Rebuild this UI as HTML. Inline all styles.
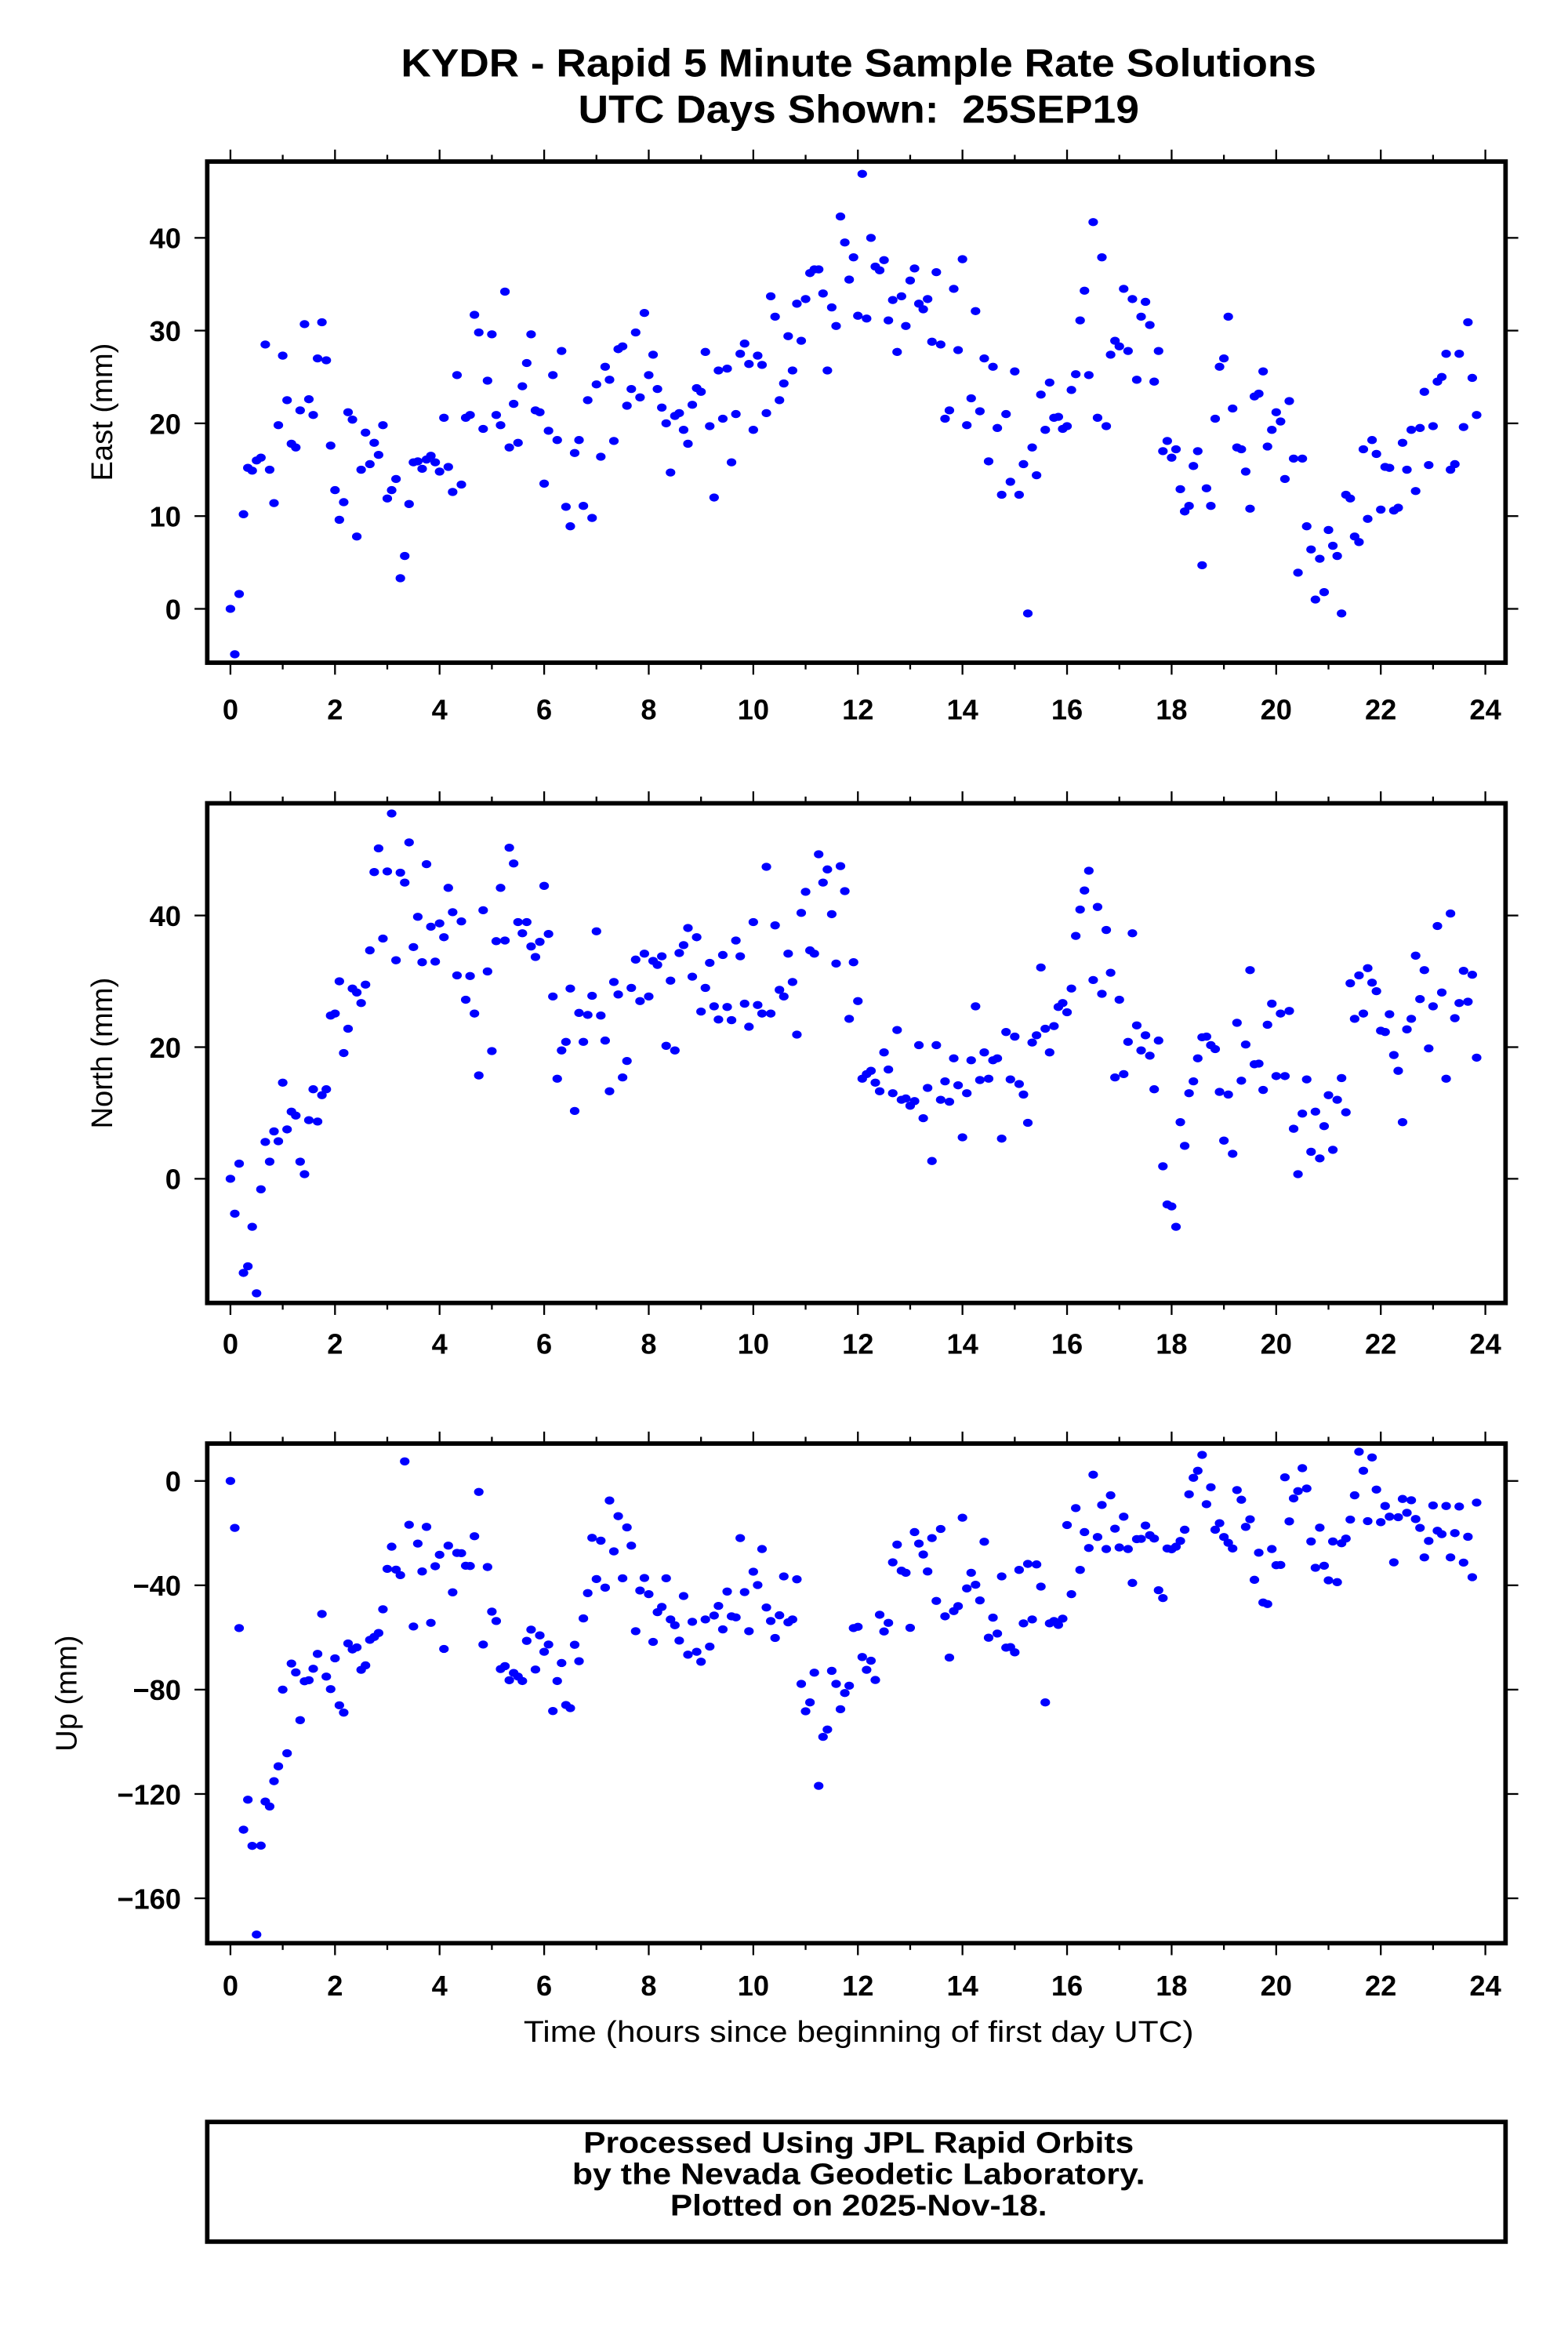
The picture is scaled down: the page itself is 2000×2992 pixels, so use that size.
<!DOCTYPE html>
<html><head><meta charset="utf-8"><style>
html,body{margin:0;padding:0;background:#fff;}
svg{display:block;}
text{font-family:"Liberation Sans",Arial,sans-serif;fill:#000;}
.b{font-weight:bold;}
</style></head>
<body>
<svg id="chart" width="2000" height="2992" viewBox="0 0 1044 1562" xmlns="http://www.w3.org/2000/svg">
<rect x="0" y="0" width="1044" height="1562" fill="#fff"/>
<g transform="scale(0.996)">
<text class="b" x="574" y="51" font-size="26" text-anchor="middle" textLength="612" lengthAdjust="spacingAndGlyphs">KYDR - Rapid 5 Minute Sample Rate Solutions</text>
<text class="b" x="574" y="82" font-size="26" text-anchor="middle" xml:space="preserve" textLength="375" lengthAdjust="spacingAndGlyphs">UTC Days Shown:  25SEP19</text>
<g id="panels"></g>
<text x="574" y="1365" font-size="20" text-anchor="middle" textLength="448" lengthAdjust="spacingAndGlyphs">Time (hours since beginning of first day UTC)</text>
<rect x="138.5" y="1418.5" width="868" height="80" fill="none" stroke="#000" stroke-width="3"/>
<text class="b" x="574" y="1439" font-size="20" text-anchor="middle" textLength="368" lengthAdjust="spacingAndGlyphs">Processed Using JPL Rapid Orbits</text>
<text class="b" x="574" y="1460" font-size="20" text-anchor="middle" textLength="383" lengthAdjust="spacingAndGlyphs">by the Nevada Geodetic Laboratory.</text>
<text class="b" x="574" y="1481" font-size="20" text-anchor="middle" textLength="252" lengthAdjust="spacingAndGlyphs">Plotted on 2025-Nov-18.</text>
</g>
</svg>
<script>
const sampleMinutes = 5;
const xTicks = [0,2,4,6,8,10,12,14,16,18,20,22,24];
const eastTicks = [0,10,20,30,40];
const northTicks = [0,20,40];
const upTicks = [0,-40,-80,-120,-160];
const eastValues = [0,-4.9,1.6,10.2,15.2,14.9,16,16.3,28.5,15,11.4,19.8,27.3,22.5,17.8,17.4,21.4,30.7,22.6,20.9,27,30.9,26.8,17.6,12.8,9.6,11.5,21.2,20.4,7.8,15,19,15.6,17.9,16.6,19.8,11.9,12.8,14,3.3,5.7,11.3,15.8,15.9,15.1,16.1,16.5,15.8,14.8,20.6,15.3,12.6,25.2,13.4,20.6,20.9,31.7,29.8,19.4,24.6,29.6,20.9,19.8,34.2,17.4,22.1,17.9,24,26.5,29.6,21.4,21.2,13.5,19.2,25.2,18.2,27.8,11,8.9,16.8,18.2,11.1,22.5,9.8,24.2,16.4,26.1,24.7,18.1,28,28.3,21.9,23.7,29.8,22.8,31.9,25.2,27.4,23.7,21.7,20,14.7,20.8,21.1,19.3,17.8,22,23.8,23.4,27.7,19.7,12,25.7,20.5,25.9,15.8,21,27.5,28.6,26.4,19.3,27.3,26.3,21.1,33.7,31.5,22.5,24.3,29.4,25.7,32.9,28.9,33.4,36.2,36.6,36.6,34,25.7,32.5,30.5,42.3,39.5,35.5,37.9,
31.6,46.9,31.3,40,36.9,36.5,37.6,31.1,33.3,27.7,33.7,30.5,35.4,36.7,32.9,32.3,33.4,28.8,36.3,28.5,20.5,21.4,34.5,27.9,37.7,19.8,22.7,32.1,21.3,27,15.9,26.1,19.5,12.3,21,13.7,25.6,12.3,15.6,-0.5,17.4,14.4,23.1,19.3,24.4,20.6,20.7,19.4,19.7,23.6,25.3,31.1,34.3,25.2,41.7,20.6,37.9,19.7,27.4,28.9,28.3,34.5,27.8,33.4,24.7,31.5,33.1,30.6,24.5,27.8,17,18.1,16.3,17.2,12.9,10.5,11.1,15.4,17,4.7,13,11.1,20.5,26.1,27,31.5,21.6,17.4,17.2,14.8,10.8,22.9,23.2,25.6,17.5,19.3,21.2,20.2,14,22.4,16.2,3.9,16.2,8.9,6.4,1,5.4,1.8,8.5,6.8,5.7,-0.5,12.3,11.9,7.8,7.2,17.2,9.7,18.2,16.7,10.7,15.3,15.2,10.6,10.9,17.9,15,19.3,12.7,19.5,23.4,15.5,19.7,24.5,25,27.5,15,15.6,27.5,19.6,30.9,24.9,20.9];
const northValues = [0,-5.3,2.3,-14.3,-13.3,-7.3,-17.4,-1.6,5.6,2.6,7.2,5.7,14.6,7.5,10.2,9.6,2.6,0.7,8.9,13.6,8.7,12.7,13.6,24.8,25.1,30,19.1,22.8,28.9,28.3,26.7,29.5,34.7,46.6,50.2,36.5,46.7,55.5,33.2,46.5,45,51.1,35.2,39.8,32.9,47.8,38.3,33,38.8,36.7,44.2,40.5,30.9,39.1,27.2,30.8,25.1,15.7,40.8,31.5,19.4,36.1,44.2,36.2,50.3,47.9,39,37.3,39,35.3,33.7,36,44.5,37.2,27.7,15.2,19.5,20.8,28.9,10.3,25.2,20.8,24.9,27.8,37.6,24.8,21,13.3,29.9,28,15.4,17.9,29,33.3,27,34.2,27.7,33.1,32.5,33.8,20.2,30.1,19.5,34.3,35.5,38.1,30.7,36.7,25.4,29,32.8,26.2,24.2,34,26.1,24.1,36.2,33.8,26.6,23.1,39,26.4,25.1,47.4,25.1,38.5,28.7,27.7,34.2,29.9,21.9,40.4,43.6,34.7,34.2,49.3,45,47,40.2,32.7,47.5,43.7,24.3,32.9,
27,15.2,15.9,16.4,14.6,13.3,19.2,16.6,13,22.6,12,12.2,11.1,11.8,20.3,9.2,13.8,2.7,20.3,12,14.8,11.7,18.3,14.2,6.3,13,18,26.2,15,19.2,15.2,18,18.3,6.1,22.3,15.1,21.6,14.4,12.8,8.5,20.7,21.8,32.1,22.8,19.2,23.2,26.1,26.7,25.3,28.9,36.9,40.9,43.8,46.8,30.2,41.3,28.1,37.8,31.3,15.4,27.2,15.9,20.8,37.3,23.3,19.5,21.8,18.7,13.6,21,1.9,-3.9,-4.2,-7.3,8.6,5,13,14.8,18.3,21.5,21.6,20.3,19.7,13.2,5.8,12.8,3.8,23.7,14.9,20.4,31.7,17.4,17.5,13.5,23.4,26.6,15.6,25.1,15.6,25.5,7.6,0.7,9.9,15.1,4.1,10.2,3.1,8,12.7,4.4,12,15.3,10.1,29.7,24.3,30.9,25.1,32,29.8,28.5,22.5,22.3,25,18.8,16.4,8.6,22.7,24.3,33.9,27.3,31.7,19.8,26.2,38.4,28.3,15.2,40.3,24.4,26.7,31.6,26.9,31,18.4];
const upValues = [0,-18,-56.4,-133.7,-122.2,-139.9,-173.9,-139.8,-122.9,-124.8,-115.1,-109.4,-80,-104.4,-70,-73.4,-91.7,-76.8,-76.4,-72,-66.3,-51,-75,-79.8,-68,-86,-88.8,-62.3,-64.6,-63.8,-72.4,-70.7,-60.9,-59.8,-58.3,-49.2,-33.7,-25.2,-34,-36.1,7.5,-16.8,-55.8,-24,-34.7,-17.6,-54.4,-32.7,-28.3,-64.4,-24.8,-42.7,-27.6,-27.7,-32.5,-32.6,-21.2,-4.2,-62.7,-33,-50.1,-53.7,-72.1,-71,-76.4,-73.6,-75,-76.7,-61.3,-57,-72.3,-59.2,-65.5,-62.7,-88.2,-76.7,-69.8,-85.9,-87.1,-62.8,-69.1,-52.7,-43,-21.8,-37.6,-22.9,-40.9,-7.5,-27,-13.5,-37.3,-17.8,-24.8,-57.6,-42,-37.2,-43.4,-61.7,-50.3,-48.3,-37.3,-53.1,-55.3,-61.2,-44.1,-66.6,-54,-65.5,-69.3,-53.1,-63.5,-51.6,-47.9,-56.9,-42.4,-51.9,-52.3,-21.9,-42.6,-57.6,-34.8,-39.9,-26.1,-48.5,-53.7,-60.2,-51.5,-36.6,-54.2,-53.1,-37.7,-77.8,-88.3,-84.9,-73.5,-116.9,-98.1,-95.3,-72.8,-77.8,-87.5,-81.3,-78.5,-56.4,
-55.9,-67.5,-72.4,-68.9,-76.3,-51.3,-57.7,-54.4,-31.2,-24.4,-34.4,-35.2,-56.3,-19.6,-24,-28.2,-34.7,-21.9,-46,-18.4,-51.9,-67.7,-49.9,-48,-14.1,-41.2,-35.2,-39.8,-45.8,-23.3,-60.1,-52.4,-58.5,-36.6,-63.9,-63.7,-65.7,-34.1,-54.6,-31.8,-53.1,-32,-40.5,-84.9,-54.6,-53.7,-55.2,-52.8,-16.9,-43.4,-10.4,-34.1,-19.6,-25.7,2.4,-21.5,-9.2,-26.1,-5.5,-18.3,-25.5,-13.7,-26.1,-39.1,-22.3,-22.2,-17.1,-20.8,-22.1,-41.9,-44.9,-25.9,-26.2,-25.2,-23,-18.7,-5.1,1.2,3.9,10,-8.9,-2.4,-18.7,-16.2,-21.5,-23.7,-25.9,-3.5,-7.2,-17.6,-14.7,-37.9,-27.5,-46.6,-47.2,-26.1,-32.3,-32.2,1.4,-15.5,-6.7,-3.9,4.9,-2.9,-23.2,-33.3,-17.9,-32.5,-38.1,-23.2,-38.8,-23.9,-22.1,-14.8,-5.5,11.2,3.9,-15.4,9,-3.3,-15.8,-9.6,-13.7,-31.2,-13.9,-6.9,-12.2,-7.4,-14.6,-18,-29.3,-23,-9.4,-19.1,-20.4,-9.6,-29.3,-20,-9.8,-31.3,-21.4,-36.9,-8.3];

const NS = 'http://www.w3.org/2000/svg';
const panelsG = document.getElementById('panels');
const X0 = 138, X1 = 1007;
const xScale = h => 154 + (993 - 154) * h / 24;
const panels = [
  {key:'east', title:'East (mm)', top:108, bottom:443, y0px:407, y1px:159, y1v:40, ticks:eastTicks, values:eastValues, titleX:75, xLabY:481},
  {key:'north', title:'North (mm)', top:537, bottom:871, y0px:788, y1px:612, y1v:40, ticks:northTicks, values:northValues, titleX:75, xLabY:905},
  {key:'up', title:'Up (mm)', top:965, bottom:1299, y0px:990, y1px:1269, y1v:-160, ticks:upTicks, values:upValues, titleX:51, xLabY:1334}
];
function mk(tag, attrs, parent){
  const el = document.createElementNS(NS, tag);
  for (const k in attrs) el.setAttribute(k, attrs[k]);
  parent.appendChild(el);
  return el;
}
panels.forEach(p => {
  const yScale = v => p.y0px + (p.y1px - p.y0px) * v / p.y1v;
  const g = mk('g', {}, panelsG);
  
  
  for (let h = 0; h <= 24; h++) {
    const x = xScale(h);
    const len = (h % 2 === 0) ? 8 : 4.5;
    const tb = mk('line', {x1:x, x2:x, y1:p.bottom, y2:p.bottom + len, stroke:'#000', 'stroke-width':1.2}, g);
    
    
    const tt = mk('line', {x1:x, x2:x, y1:p.top, y2:p.top - len, stroke:'#000', 'stroke-width':1.2}, g);
    
    
  }
  xTicks.forEach(h => {
    const t = mk('text', {x:xScale(h), y:p.xLabY, 'font-size':19, 'text-anchor':'middle', class:'b'}, g);
    t.textContent = String(h);
    
    
  });
  p.ticks.forEach(v => {
    const y = yScale(v);
    const l1 = mk('line', {x1:X0 - 8, x2:X0, y1:y, y2:y, stroke:'#000', 'stroke-width':1.2}, g);
    
    
    const l2 = mk('line', {x1:X1, x2:X1 + 8, y1:y, y2:y, stroke:'#000', 'stroke-width':1.2}, g);
    
    
    const t = mk('text', {x:121, y:y + 7, 'font-size':19, 'text-anchor':'end', class:'b'}, g);
    t.textContent = v < 0 ? '\u2212' + Math.abs(v) : String(v);
    
    
  });
  const cy = (p.top + p.bottom) / 2;
  const yt = mk('text', {x:p.titleX, y:cy, 'font-size':20, 'text-anchor':'middle', transform:'rotate(-90 ' + p.titleX + ' ' + cy + ')'}, g);
  yt.textContent = p.title;
  
  
  const pts = mk('g', {fill:'#0000ff'}, g);
  
  
  p.values.forEach((v, i) => {
    const h = i * sampleMinutes / 60;
    const c = mk('ellipse', {cx:xScale(h), cy:yScale(v), rx:3.2, ry:2.7}, pts);
    
    
  });
  const fr = mk('rect', {x:X0 + 0.5, y:p.top, width:X1 - X0 - 1, height:p.bottom - p.top, fill:'none', stroke:'#000', 'stroke-width':3}, g);
  
  
});
</script>
</body></html>
